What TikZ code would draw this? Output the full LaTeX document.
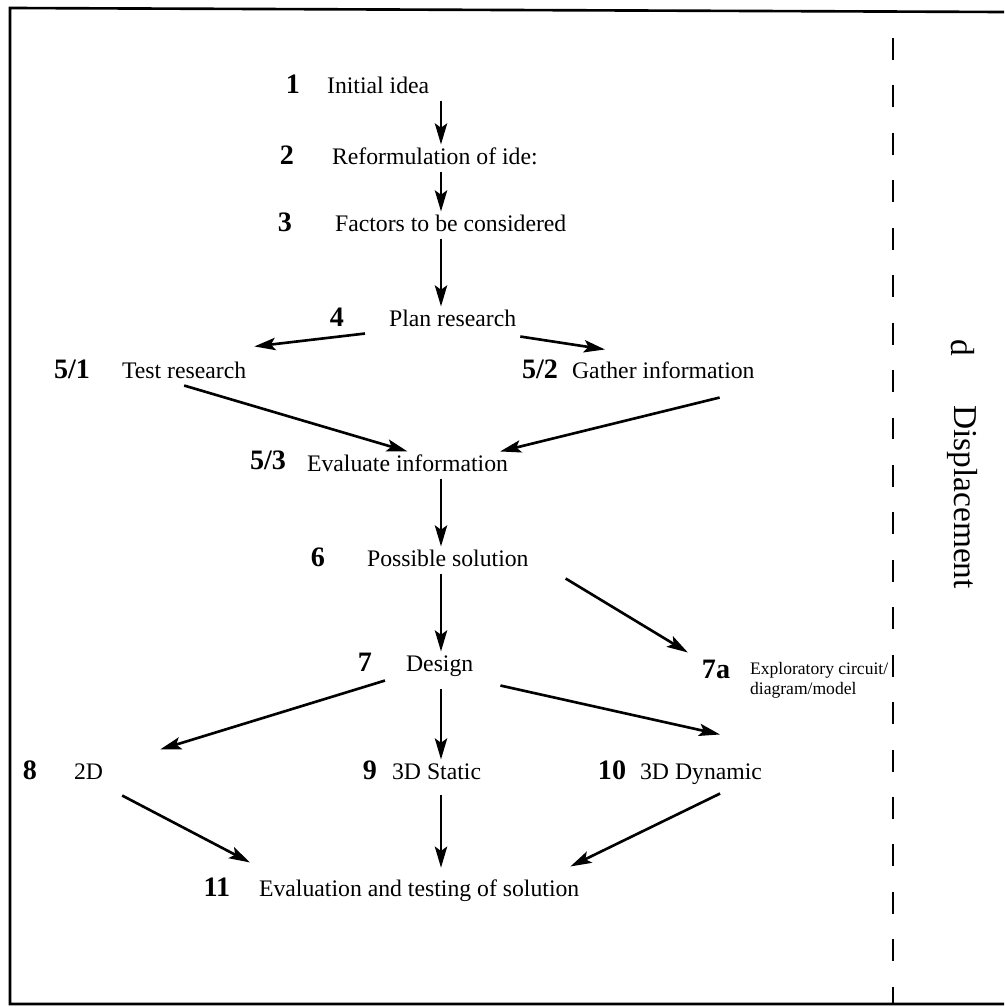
\documentclass[tikz,border=0pt]{standalone}
\usepackage{fontspec}
\setmainfont{Liberation Serif}
\usetikzlibrary{arrows.meta}

\tikzset{
  lbl/.style={inner sep=1pt, text height=10pt, text depth=3pt},
  num/.style={lbl, font=\fontsize{16}{18}\selectfont\bfseries},
  txt/.style={lbl, font=\fontsize{13.5}{16}\selectfont, anchor=west},
  smalltxt/.style={inner sep=1pt, font=\fontsize{10}{11.5}\selectfont, anchor=west, align=left},
  side/.style={rotate=-90, font=\fontsize{19}{21}\selectfont},
  arr/.style={line width=1.5pt, -{Stealth[length=12pt,width=7pt,inset=2.5pt]}},
  frame/.style={line width=1.5pt},
}

\begin{document}
\begin{tikzpicture}[x=0.02cm, y=-0.02cm]
  \useasboundingbox (0,0) rectangle (1004,1007);
  \draw[frame] (1004,12) -- (10,8) -- (10,1004) -- (1004,1004);
  \draw[line width=1.4pt, dash pattern=on 12.5pt off 14.5pt] (893,38) -- (893,1004);

  \node[side] (d) at (963,348) {d};
  \node[side] (disp) at (963,497) {Displacement};

  \coordinate (ax) at (441,0);

  \node[num] (n1) at (293,87) {1};
  \node[txt] (t1) at (325,87) {Initial idea};
  \node[num] (n2) at (287,158) {2};
  \node[txt] (t2) at (330,158) {Reformulation of ide:};
  \node[num] (n3) at (285,225) {3};
  \node[txt] (t3) at (333,225) {Factors to be considered};
  \node[num] (n4) at (337,320) {4};
  \node[txt] (t4) at (387,320) {Plan research};

  \node[num] (n51) at (72,372) {5/1};
  \node[txt] (t51) at (120,372) {Test research};
  \node[num] (n52) at (540,372) {5/2};
  \node[txt] (t52) at (570,372) {Gather information};
  \node[num] (n53) at (268,463) {5/3};
  \node[txt] (t53) at (305,465) {Evaluate information};

  \node[num] (n6) at (318,560) {6};
  \node[txt] (t6) at (365,560) {Possible solution};
  \node[num] (n7) at (365,665) {7};
  \node[txt] (t7) at (404,665) {Design};
  \node[num] (n7a) at (716,672) {7a};
  \node[smalltxt] (t7a) at (748,680) {Exploratory circuit/\\diagram/model};

  \node[num] (n8) at (30,773) {8};
  \node[txt] (t8) at (72,773) {2D};
  \node[num] (n9) at (370,773) {9};
  \node[txt] (t9) at (390,773) {3D Static};
  \node[num] (n10) at (612,773) {10};
  \node[txt] (t10) at (638,773) {3D Dynamic};
  \node[num] (n11) at (217,890) {11};
  \node[txt] (t11) at (257,890) {Evaluation and testing of solution};

  \draw[arr] (t1.south -| ax) -- (t2.north -| ax);
  \draw[arr] (t2.south -| ax) -- (t3.north -| ax);
  \draw[arr] (t3.south -| ax) -- (t4.north -| ax);
  \draw[arr] ([shift={(-22,0)}]t4.south west) -- ([shift={(6,-12)}]t51.north east);
  \draw[arr] ([shift={(2,3)}]t4.south east) -- ([shift={(35,-9)}]t52.north west);
  \draw[arr] (t51.south) -- (t53.north);
  \draw[arr] ([shift={(-37,12)}]t52.south east) -- ([shift={(-10,0)}]t53.north east);
  \draw[arr] (t53.south -| ax) -- (t6.north -| ax);
  \draw[arr] (t6.south -| ax) -- (t7.north -| ax);
  \draw[arr] ([shift={(35,5)}]t6.south east) -- ([shift={(-12,-6)}]n7a.north west);
  \draw[arr] ([shift={(-19,2)}]t7.south west) -- ([shift={(55,-10)}]t8.north east);
  \draw[arr, shorten <=6pt] (t7.south -| ax) -- (t9.north -| ax);
  \draw[arr] ([shift={(25,7)}]t7.south east) -- ([shift={(19,-25)}]t10.north);
  \draw[arr] ([shift={(17,9)}]t8.south east) -- ([shift={(-7,-14)}]t11.north west);
  \draw[arr, shorten <=5pt, shorten >=5pt] (t9.south -| ax) -- (t11.north -| ax);
  \draw[arr] ([shift={(-44,7)}]t10.south east) -- ([shift={(-11,-10)}]t11.north east);
\end{tikzpicture}
\end{document}
